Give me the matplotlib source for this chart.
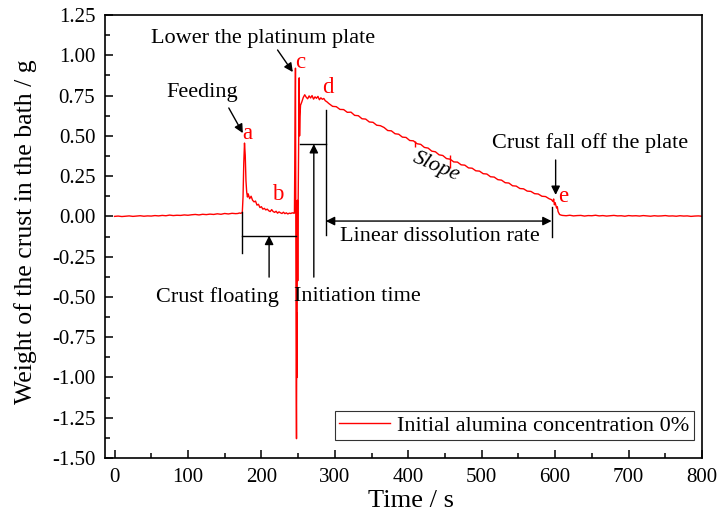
import numpy as np
import matplotlib
matplotlib.use("Agg")
from matplotlib import pyplot as plt
from matplotlib.ticker import MultipleLocator

plt.rcParams['font.family'] = ['Liberation Serif', 'DejaVu Serif']

# baseline before feeding
t_base1 = np.arange(0, 170, 5)
w_base1 = [0.000, 0.002, -0.001, 0.001, 0.003, 0.000, 0.002, 0.004, 0.001, 0.003,
           0.002, 0.005, 0.003, 0.006, 0.004, 0.008, 0.005, 0.007, 0.006, 0.009,
           0.007, 0.010, 0.012, 0.009, 0.013, 0.011, 0.014, 0.012, 0.016, 0.013,
           0.018, 0.015, 0.019, 0.017]

# feeding peak (a) and crust floating (b)
t_feed = [168, 170, 172, 174, 175, 176, 177, 178, 179, 180, 181, 182,
          184, 186, 188, 190, 192, 194, 196, 198, 200, 202, 204, 206, 208, 210,
          212, 214, 216, 218, 220, 222, 224, 226, 228, 230, 232, 234, 236, 238,
          240, 242, 244]
w_feed = [0.018, 0.021, 0.019, 0.024, 0.12, 0.33, 0.455, 0.38, 0.22, 0.15, 0.12, 0.14,
          0.11, 0.125, 0.10, 0.09, 0.095, 0.07, 0.075, 0.055, 0.06, 0.045,
          0.05, 0.04, 0.045, 0.035, 0.03, 0.042, 0.03, 0.025, 0.032, 0.02,
          0.028, 0.022, 0.018, 0.026, 0.017, 0.022, 0.015, 0.02, 0.018, 0.022,
          0.02]

# lowering the plate (c)
t_plate = [245, 245.8, 246.4, 247, 247.4, 247.8, 248.2, 248.6, 249, 249.5,
           250, 250.5, 251, 251.5, 252, 252.5, 253.3]
w_plate = [0.02, 0.50, 0.92, -0.30, -1.05, -1.38, -0.60, -1.00, 0.10, -0.40,
           0.05, 0.30, 0.60, 0.86, 0.50, 0.62, 0.69]

# plateau (d)
t_top = np.arange(255, 290, 2)
w_top = [0.71, 0.738, 0.755, 0.74, 0.73, 0.748, 0.735, 0.75, 0.728, 0.742,
         0.733, 0.745, 0.724, 0.736, 0.727, 0.732, 0.718, 0.712]

# linear dissolution
t_diss = np.arange(292, 593, 5)
w_diss = [0.700, 0.683, 0.681, 0.664, 0.663, 0.646, 0.647, 0.627, 0.625, 0.606,
          0.604, 0.586, 0.584, 0.566, 0.563, 0.552, 0.533, 0.531, 0.513, 0.510,
          0.492, 0.490, 0.471, 0.469, 0.451, 0.447, 0.428, 0.424, 0.405, 0.401,
          0.382, 0.378, 0.359, 0.355, 0.338, 0.337, 0.320, 0.318, 0.301, 0.299,
          0.283, 0.281, 0.265, 0.263, 0.246, 0.244, 0.228, 0.225, 0.209, 0.207,
          0.190, 0.188, 0.173, 0.171, 0.157, 0.155, 0.141, 0.139, 0.125, 0.123,
          0.109]

# crust falls off (e)
t_fall = [595, 597, 598, 599, 600, 602, 603, 604, 606, 608]
w_fall = [0.104, 0.092, 0.108, 0.072, 0.085, 0.052, 0.06, 0.03, 0.012, 0.008]

# baseline after
t_base2 = np.arange(610, 801, 5)
w_base2 = [0.006, 0.004, 0.007, 0.003, 0.005, 0.006, 0.002, 0.005, 0.004, 0.007,
           0.003, 0.005, 0.002, 0.004, 0.006, 0.003, 0.004, 0.001, 0.005, 0.003,
           0.004, 0.002, 0.005, 0.003, 0.001, 0.004, 0.002, 0.003, 0.005, 0.002,
           0.003, 0.001, 0.004, 0.002, 0.003, 0.000, 0.002, 0.003, 0.001]

# small marks on the slope
slope_t = [409, 457]
slope_lo = [0.43, 0.30]
slope_hi = [0.47, 0.38]

time = np.concatenate([t_base1, t_feed, t_plate, t_top, t_diss, t_fall, t_base2])
weight = np.concatenate([w_base1, w_feed, w_plate, w_top, w_diss, w_fall, w_base2])

fig = plt.figure(figsize=(7.2, 5.18), dpi=100)
ax = fig.add_axes([0.1458, 0.1158, 0.8292, 0.8552])

ax.plot(time, weight, color='red', lw=1.0, label='Initial alumina concentration 0%')
ax.vlines(slope_t, slope_lo, slope_hi, color='red', lw=1.0)

ax.set_xlim(-13, 800)
ax.set_ylim(-1.5, 1.25)
ax.set_xticks(np.arange(0, 801, 100))
ax.xaxis.set_minor_locator(MultipleLocator(50))
ax.set_yticks(np.arange(-1.5, 1.26, 0.25))
ax.set_yticklabels(['%.2f' % v for v in np.arange(-1.5, 1.26, 0.25)])
ax.yaxis.set_minor_locator(MultipleLocator(0.125))
ax.tick_params(which='both', direction='in', top=False, right=False, width=1.1)
ax.tick_params(which='major', length=6, labelsize=15, pad=7)
ax.tick_params(which='minor', length=3.5)
for s in ax.spines.values():
    s.set_linewidth(1.2)

ax.set_xlabel('Time / s', fontsize=19)
ax.xaxis.set_label_coords(0.512, -0.072)
ax.set_ylabel('Weight of the crust in the bath / g', fontsize=18.5)
ax.yaxis.set_label_coords(-0.114, 0.51)

arrow = dict(arrowstyle='-|>', color='black', lw=1.0, mutation_scale=13, shrinkA=0, shrinkB=0)
fs = 16

# text labels
ax.text(119, 0.766, 'Feeding', fontsize=fs, ha='center', va='center')
ax.annotate('', xy=(174.7, 0.517), xytext=(155.6, 0.673), arrowprops=arrow)
ax.text(202, 1.107, 'Lower the platinum plate', fontsize=fs, ha='center', va='center')
ax.annotate('', xy=(242.8, 0.896), xytext=(222, 1.033), arrowprops=arrow)
ax.text(648, 0.455, 'Crust fall off the plate', fontsize=fs, ha='center', va='center')
ax.annotate('', xy=(600.7, 0.133), xytext=(600.7, 0.35), arrowprops=arrow)
ax.text(437.5, 0.31, 'Slope', fontsize=fs, ha='center', va='center',
        rotation=-23, style='italic')

# red point letters
for lab, x, y in [('a', 181.5, 0.517), ('b', 222, 0.133), ('c', 252.3, 0.958),
                  ('d', 290, 0.797), ('e', 610.6, 0.122)]:
    ax.text(x, y, lab, color='red', fontsize=16.5, ha='center', va='center')

# crust floating bracket
ax.plot([173.3, 173.3], [0.03, -0.23], color='black', lw=1.0)
ax.plot([173.3, 247], [-0.12, -0.12], color='black', lw=1.0)
ax.annotate('', xy=(210.5, -0.12), xytext=(210.5, -0.377), arrowprops=arrow)
ax.text(140.7, -0.50, 'Crust floating', fontsize=fs, ha='center', va='center')

# initiation time bracket
ax.plot([252, 287.8], [0.449, 0.449], color='black', lw=1.0)
ax.plot([287.8, 287.8], [0.66, -0.116], color='black', lw=1.0)
ax.annotate('', xy=(271.4, 0.449), xytext=(271.4, -0.377), arrowprops=arrow)
ax.text(331, -0.50, 'Initiation time', fontsize=fs, ha='center', va='center')

# linear dissolution bracket
ax.plot([595.2, 595.2], [0.06, -0.125], color='black', lw=1.0)
ax.annotate('', xy=(287.8, -0.029), xytext=(595.2, -0.029),
            arrowprops=dict(arrowstyle='<|-|>', color='black', lw=1.0,
                            mutation_scale=13, shrinkA=0, shrinkB=0))
ax.text(443, -0.125, 'Linear dissolution rate', fontsize=fs, ha='center', va='center')

leg = ax.legend(loc='lower right', bbox_to_anchor=(0.986, 0.04), fontsize=16,
                frameon=True, fancybox=False, edgecolor='black', handlelength=2.3,
                handletextpad=0.3, borderpad=0.2, borderaxespad=0)
leg.get_frame().set_linewidth(0.8)

fig.savefig('out.png', dpi=100)
